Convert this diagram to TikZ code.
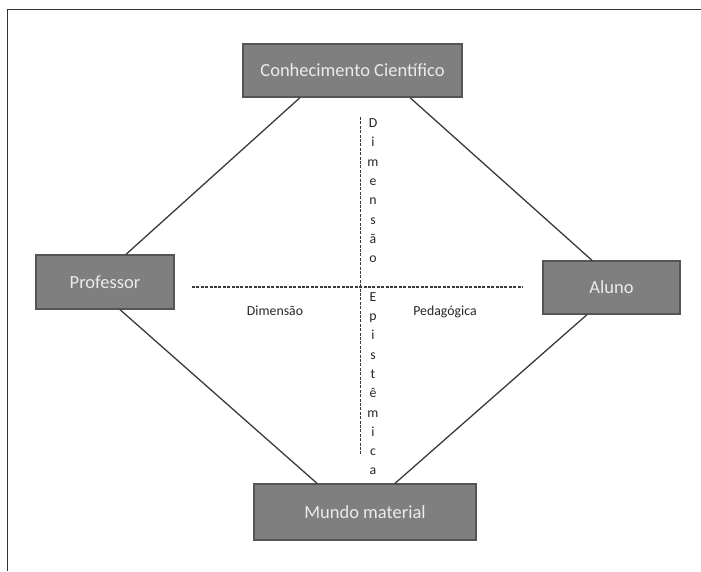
\documentclass[tikz,border=0pt]{standalone}
\usepackage{fontspec}
\setmainfont{Carlito}
\definecolor{boxgray}{HTML}{7F7F7F}
\definecolor{boxline}{HTML}{555555}
\definecolor{boxtext}{HTML}{EBEBEB}
\definecolor{linegray}{HTML}{3A3A3A}
\begin{document}
\begin{tikzpicture}[x=1pt,y=-1pt,
  box/.style={rectangle,fill=boxgray,draw=boxline,line width=1.3pt,text=boxtext,
    inner sep=0pt,font=\fontsize{18.5}{20}\selectfont},
  conn/.style={draw=linegray,line width=1.3pt},
  axis/.style={draw=linegray,line width=1.1pt,dash pattern=on 3pt off 1.4pt},
  lbl/.style={inner sep=0pt,text=black!85,font=\fontsize{13.8}{15}\selectfont},
  frame/.style={draw=black!80,line width=1.4pt}]
\useasboundingbox (0,0) rectangle (701,571);
% frame
\coordinate (fbl) at (7.5,571);
\coordinate (ftl) at (7.5,9.5);
\coordinate (ftr) at (701,9.5);
\draw[frame] (fbl) -- (ftl) -- (ftr);
% boxes
\node[box,minimum width=219pt,minimum height=53pt] (ck) at (352.5,70.5) {Conhecimento Científico};
\node[box,minimum width=138pt,minimum height=54pt] (prof) at (105,282) {Professor};
\node[box,minimum width=137pt,minimum height=53pt] (aluno) at (611.5,287.5) {Aluno};
\node[box,minimum width=222pt,minimum height=56pt] (mundo) at (365,512) {Mundo material};
% connectors
\draw[conn] ([xshift=-52.5pt]ck.south) -- ([xshift=21pt]prof.north);
\draw[conn] ([xshift=57.5pt]ck.south) -- ([xshift=-19.5pt]aluno.north);
\draw[conn] ([xshift=15pt]prof.south) -- ([xshift=-48pt]mundo.north);
\draw[conn] ([xshift=-24.5pt]aluno.south) -- ([xshift=30pt]mundo.north);
% axes
\coordinate (vtop) at (360.5,117);
\coordinate (vbot) at (360.5,455);
\coordinate (hl) at (192,287);
\coordinate (hr) at (523,287);
\draw[axis] (vtop) -- (vbot);
\draw[axis] (hl) -- (hr);
% vertical labels
\foreach \l [count=\k from 0] in {D,i,m,e,n,s,ã,o}
  \node[lbl,anchor=base] (d\k) at (373,127.5+19.3*\k) {\l};
\foreach \l [count=\k from 9] in {E,p,i,s,t,ê,m,i,c,a}
  \node[lbl,anchor=base] (e\k) at (373,127.5+19.3*\k) {\l};
% horizontal labels
\node[lbl,anchor=base] (dimh) at (275,315) {Dimensão};
\node[lbl,anchor=base] (pedh) at (445,315) {Pedagógica};
\end{tikzpicture}
\end{document}
